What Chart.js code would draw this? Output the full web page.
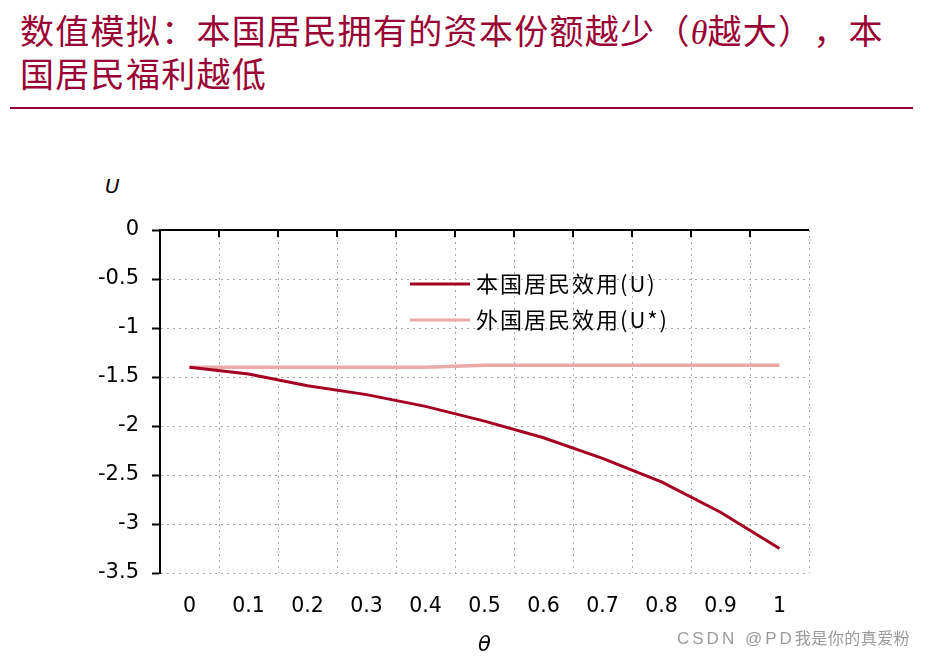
<!DOCTYPE html>
<html>
<head>
<meta charset="utf-8">
<script src="https://cdn.jsdelivr.net/npm/chart.js@4/dist/chart.umd.min.js"></script>
<style>
  html, body { margin: 0; padding: 0; background: #ffffff; }
  #wrap { position: relative; width: 930px; height: 658px; overflow: hidden; background: #fff; }
  #title { position: absolute; left: 20px; top: 10px; font-family: "Noto Sans CJK SC", sans-serif; font-size: 34px; line-height: 40px; color: #990033; letter-spacing: 1.3px; white-space: nowrap; text-spacing-trim: space-all; font-feature-settings: "halt" 0, "palt" 0; }
  #title i { font-family: "Liberation Serif", serif; font-style: italic; letter-spacing: 0; }
  #rule { position: absolute; left: 10px; top: 107px; width: 903px; height: 2px; background: #990033; }
  #ulabel { position: absolute; left: 105px; top: 174px; font-family: "DejaVu Sans", sans-serif; font-style: italic; font-size: 20px; color: #000; }
  #mark { position: absolute; left: 677px; top: 625px; font-family: "Liberation Sans", sans-serif; font-size: 17px; letter-spacing: 3px; color: #9a9a9a; white-space: nowrap; }
  #mark span { font-family: "Noto Sans CJK SC", sans-serif; font-size: 16px; letter-spacing: 0.5px; }
  canvas { position: absolute; left: 0; top: 0; }
</style>
</head>
<body>
<div id="wrap">
  <div id="title">数值模拟：本国居民拥有的资本份额越少（<i>θ</i>越大），本<br>国居民福利越低</div>
  <div id="rule"></div>
  <div id="ulabel">U</div>
  <canvas id="c" width="930" height="658"></canvas>
  <div id="mark">CSDN @PD<span>我是你的真爱粉</span></div>
</div>
<script>
const thetaLabels = ['0', '0.1', '0.2', '0.3', '0.4', '0.5', '0.6', '0.7', '0.8', '0.9', '1'];
const homeUtility = [-1.40, -1.47, -1.59, -1.68, -1.80, -1.95, -2.12, -2.33, -2.57, -2.88, -3.25];
const foreignUtility = [-1.40, -1.40, -1.40, -1.40, -1.40, -1.38, -1.38, -1.38, -1.38, -1.38, -1.38];
const seriesNames = ['本国居民效用(U)', '外国居民效用(U*)'];
const yTicks = { min: -3.5, max: 0, step: 0.5 };

const gridGrey = '#a6a6a6';

const framePlugin = {
  id: 'frame',
  afterDraw(chart) {
    const ctx = chart.ctx;
    const area = chart.chartArea;
    const xs = chart.scales.x;
    ctx.save();
    ctx.strokeStyle = '#000';
    ctx.lineWidth = 2;
    ctx.beginPath();
    ctx.moveTo(area.left - 1, area.top);
    ctx.lineTo(area.right, area.top);
    ctx.stroke();
    // inward tick marks at the category boundaries of the top axis
    for (let i = 0; i < thetaLabels.length - 1; i++) {
      const bx = (xs.getPixelForValue(i) + xs.getPixelForValue(i + 1)) / 2;
      ctx.beginPath();
      ctx.moveTo(bx, area.top);
      ctx.lineTo(bx, area.top + 7);
      ctx.stroke();
    }
    ctx.restore();
  }
};

const legendPlugin = {
  id: 'insideLegend',
  afterDraw(chart) {
    const ctx = chart.ctx;
    const area = chart.chartArea;
    const x0 = area.left + 250;
    const y0 = area.top + 54;
    const gap = 36;
    ctx.save();
    chart.data.datasets.forEach((ds, i) => {
      const y = y0 + i * gap;
      ctx.strokeStyle = ds.borderColor;
      ctx.lineWidth = 3;
      ctx.beginPath();
      ctx.moveTo(x0, y);
      ctx.lineTo(x0 + 60, y);
      ctx.stroke();
      ctx.fillStyle = '#000';
      ctx.font = '22px "Noto Sans CJK SC", sans-serif';
      if ('letterSpacing' in ctx) ctx.letterSpacing = '2px';
      ctx.textBaseline = 'middle';
      ctx.textAlign = 'left';
      ctx.fillText(ds.label, x0 + 66, y);
      if ('letterSpacing' in ctx) ctx.letterSpacing = '0px';
    });
    ctx.restore();
  }
};

new Chart(document.getElementById('c'), {
  type: 'line',
  data: {
    labels: thetaLabels,
    datasets: [
      { label: seriesNames[0], data: homeUtility, borderColor: '#a50021', borderWidth: 3, pointRadius: 0, tension: 0, fill: false },
      { label: seriesNames[1], data: foreignUtility, borderColor: '#eaaaaa', borderWidth: 3.5, pointRadius: 0, tension: 0, fill: false }
    ]
  },
  options: {
    responsive: false,
    animation: false,
    events: [],
    layout: { padding: { left: 0, right: 121, top: 230, bottom: 0 } },
    plugins: { legend: { display: false }, title: { display: false }, tooltip: { enabled: false } },
    scales: {
      x: {
        type: 'category',
        offset: true,
        position: 'bottom',
        afterFit(scale) { scale.height = 85; },
        grid: { offset: true, color: gridGrey, lineWidth: 1, drawTicks: false },
        border: { display: false, dash: [2, 4] },
        ticks: { color: '#000', font: { family: 'DejaVu Sans', size: 20.5 }, padding: 21, maxRotation: 0, autoSkip: false },
        title: { display: true, text: 'θ', color: '#000', font: { family: 'DejaVu Sans', size: 21, style: 'italic' }, padding: { top: 0, bottom: 0 } }
      },
      y: {
        min: yTicks.min,
        max: yTicks.max,
        afterFit(scale) { scale.width = 160; },
        grid: { color: gridGrey, lineWidth: 1, tickColor: '#000', tickWidth: 2, tickLength: 8, drawTicks: true },
        border: { display: true, color: '#000', width: 2, dash: [2, 4] },
        ticks: {
          stepSize: yTicks.step, color: '#000', font: { family: 'DejaVu Sans', size: 21 }, padding: 13,
          callback: (v) => String(Math.round(v * 10) / 10)
        }
      }
    }
  },
  plugins: [framePlugin, legendPlugin]
});
</script>
</body>
</html>
